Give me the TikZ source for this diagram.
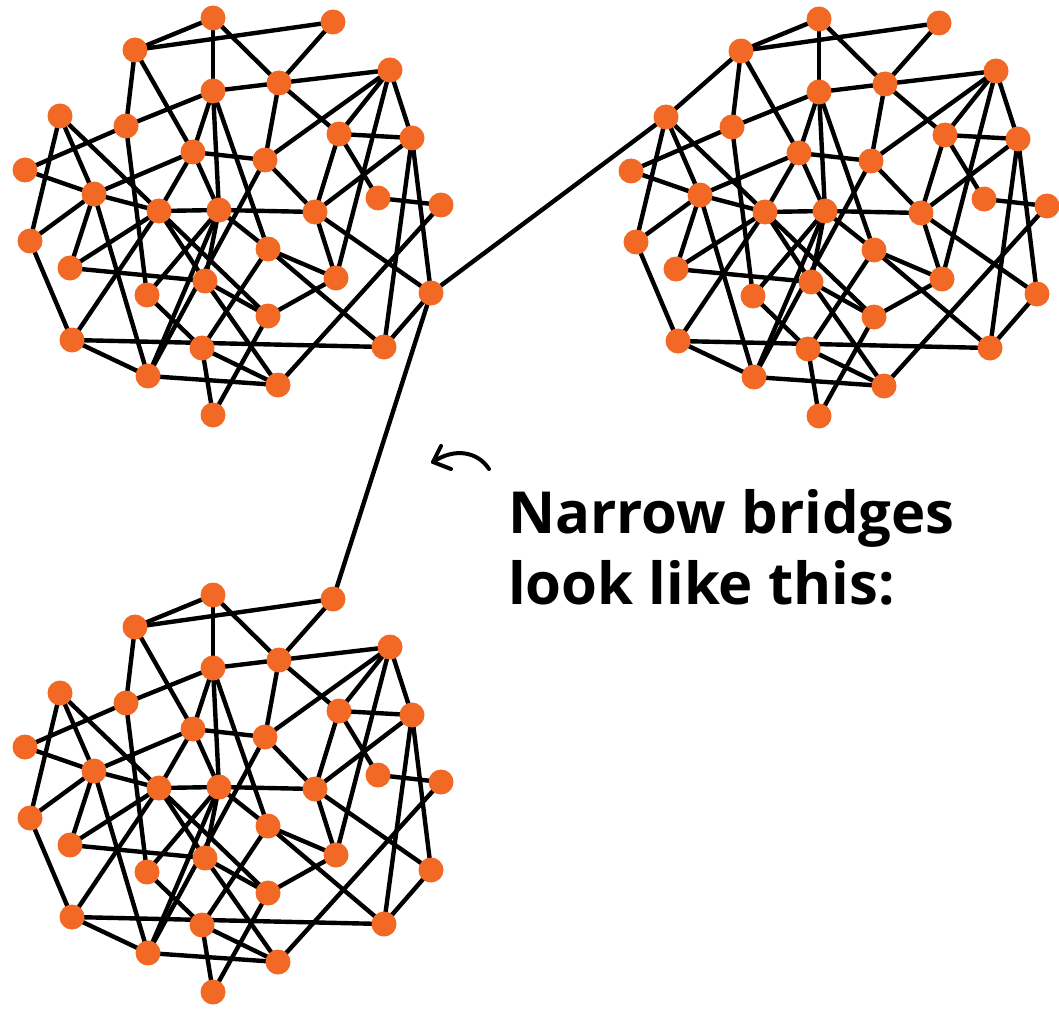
\documentclass[tikz,border=0pt]{standalone}
\usepackage{fontspec}
\newfontfamily\captionfont{Open Sans}
\usetikzlibrary{backgrounds}
\pgfdeclarelayer{canvas}
\pgfsetlayers{canvas,background,main}
\definecolor{dotorange}{RGB}{241,105,36}
\tikzset{
  dot/.style={circle, fill=dotorange, draw=none, minimum size=25pt, inner sep=0pt},
  edge/.style={draw=black, line width=4.4pt},
  captiontext/.style={anchor=base west, inner sep=0pt, font=\captionfont\bfseries\fontsize{58}{64}\selectfont},
  pointer/.style={draw=black, line width=4pt, line cap=round, line join=round}
}
\newcommand\nodelist{A/213/18, K/333/22, B/135/50, M/390/70, L/279/83, C/213/91,
  D/60/116, E/126/126, N/339/134, O/412/138, F/193/152, P/265/160, G/25/170,
  H/94/194, Q/378/198, R/441/205, I/159/211, J/219/210, S/315/212, T/30/241,
  BB/268/249, U/70/268, CC/336/278, V/205/281, W/147/295, DD/431/293,
  EE/268/316, X/72/340, Y/202/348, FF/384/347, Z/148/376, GG/278/385, AA/213/415}
\newcommand\edgelist{A/B, A/C, A/L, B/K, K/L, B/E, B/F, L/M, L/C, L/P, L/N,
  M/N, M/P, M/CC, M/O, N/O, N/Q, N/S, O/S, O/FF, O/DD, Q/R, R/GG, C/E, C/F,
  C/J, C/BB, G/E, G/H, D/T, D/H, D/I, E/W, F/P, F/H, F/I, F/J, H/I, I/J, J/S,
  P/S, S/CC, S/DD, BB/CC, BB/FF, J/BB, CC/EE, DD/FF, T/H, T/X, H/U, H/Z, U/I,
  U/V, W/J, W/Y, X/FF, X/Z, X/I, Y/AA, Y/GG, Y/BB, Z/GG, J/Z, AA/EE, I/EE,
  I/V, V/GG, J/V, V/EE, P/Z}
\newcommand\netcluster[3]{%
  \foreach \n/\x/\y in \nodelist { \node[dot] (#1\n) at (\x+#2,\y+#3) {}; }
  \begin{pgfonlayer}{background}
    \foreach \a/\b in \edgelist { \draw[edge] (#1\a.center) -- (#1\b.center); }
  \end{pgfonlayer}
}
\begin{document}
\begin{tikzpicture}[x=1pt, y=-1pt]
  \useasboundingbox (0,0) rectangle (1059,1011);
  \begin{pgfonlayer}{canvas}
    \fill[white] (0,0) rectangle (1059,1011);
  \end{pgfonlayer}
  \netcluster{tl}{0}{0}
  \netcluster{tr}{606}{1}
  \netcluster{bl}{0}{577}
  \begin{pgfonlayer}{background}
    \draw[edge] (trB.center) -- (trD.center);
    \draw[edge] (tlDD.center) -- (trD.center);
    \draw[edge] (tlDD.center) -- (blK.center);
  \end{pgfonlayer}
  % caption
  \node[captiontext] (cap1) at (508,533) {Narrow bridges};
  \node[captiontext] (cap2) at (508,604) {look like this:};
  % curved pointer
  \coordinate (ptail) at (489,469);
  \coordinate (ptip) at (433,462);
  \coordinate (parmA) at (441,446);
  \coordinate (parmB) at (451,469);
  \draw[pointer] (ptail) .. controls (478,452) and (455,447) .. (ptip);
  \draw[pointer] (parmA) -- (ptip) -- (parmB);
\end{tikzpicture}
\end{document}
